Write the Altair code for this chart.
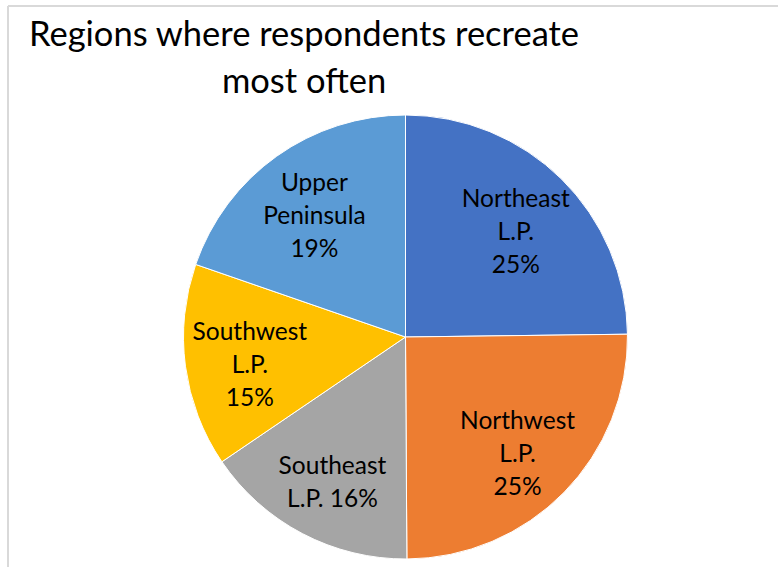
import altair as alt
import pandas as pd

regions = ["Northeast L.P.", "Northwest L.P.", "Southeast L.P.", "Southwest L.P.", "Upper Peninsula"]
shares = [24.8, 25.1, 15.6, 14.8, 19.7]
labels = ["Northeast\nL.P.\n25%", "Northwest\nL.P.\n25%", "Southeast\nL.P. 16%",
          "Southwest\nL.P.\n15%", "Upper\nPeninsula\n19%"]
colors = ["#4472C4", "#ED7D31", "#A5A5A5", "#FFC000", "#5B9BD5"]
title_lines = ["Regions where respondents recreate", "most often"]

FONT = "Lato"
LABEL_LH = 33
TITLE_LH = 47

df = pd.DataFrame({"region": regions, "share": shares, "label": labels,
                   "order": list(range(len(regions)))})
# shift multi-line labels so that the text block is centred on its anchor
df["shift"] = [-(lab.count("\n")) * LABEL_LH / 2 for lab in labels]

CX, CY = 405.5, 337
R = 222

base = alt.Chart(df).transform_stack(
    stack="share", groupby=[], as_=["s0", "s1"], sort=[alt.SortField("order")]
).transform_calculate(
    mid="(datum.s0 + datum.s1) / 2"
)

theta_scale = alt.Scale(domain=[0, float(sum(shares))], range=[0, 6.283185307179586],
                        nice=False, zero=True)

pie = base.mark_arc(outerRadius=R, stroke="white", strokeWidth=1).encode(
    theta=alt.Theta("s0:Q", scale=theta_scale, stack=None),
    theta2="s1:Q",
    x=alt.value(CX),
    y=alt.value(CY),
    color=alt.Color("region:N", scale=alt.Scale(domain=regions, range=colors), legend=None),
)

text = base.mark_text(radius=157, lineBreak="\n", font=FONT, fontSize=24.5,
                      lineHeight=LABEL_LH, color="#000000", align="center",
                      baseline="middle", dy=8).encode(
    theta=alt.Theta("mid:Q", scale=theta_scale, stack=None),
    x=alt.value(CX),
    y=alt.value(CY),
    text="label:N",
    yOffset=alt.YOffset("shift:Q", scale=None),
)

title_df = pd.DataFrame({"t": ["\n".join(title_lines)]})
title = alt.Chart(title_df).mark_text(
    lineBreak="\n", font=FONT, fontSize=34.5, lineHeight=TITLE_LH, color="#000000",
    align="center", baseline="alphabetic"
).encode(text="t:N", x=alt.value(304), y=alt.value(46))

border = alt.Chart(title_df).mark_rule(color="#d9d9d9", strokeWidth=2).encode(
    x=alt.value(8), x2=alt.value(8), y=alt.value(6), y2=alt.value(600)
)
border_top = alt.Chart(title_df).mark_rule(color="#d9d9d9", strokeWidth=2).encode(
    x=alt.value(8), x2=alt.value(800), y=alt.value(6), y2=alt.value(6)
)

chart = alt.layer(border, border_top, pie, text, title).properties(
    width=778, height=567,
    padding=0,
    autosize=alt.AutoSizeParams(type="none"),
    background="white",
).configure_view(stroke=None)

chart.save("out.html", embed_options={"renderer": "svg", "actions": False})
